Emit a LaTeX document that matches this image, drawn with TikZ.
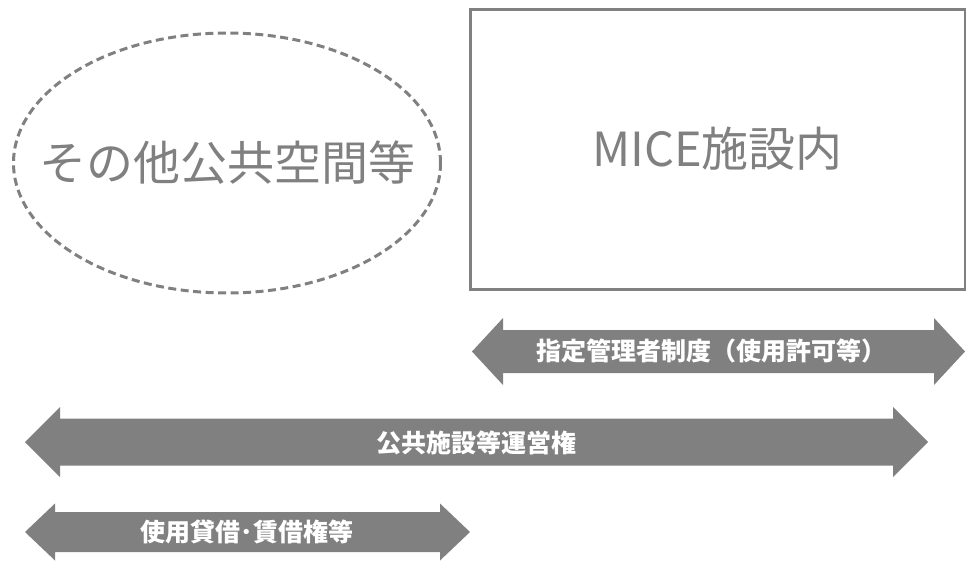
\documentclass[tikz,border=0pt]{standalone}
\usepackage{fontspec}
\setmainfont{Noto Sans CJK JP}
\usetikzlibrary{shapes.geometric}
\definecolor{gr}{RGB}{128,128,128}
\newcommand\dblarr[6]{% x1, x2, yc, shaft half, head half, head length
  \fill[gr] (#1,#3) -- (#1+#6,#3-#5) -- (#1+#6,#3-#4) -- (#2-#6,#3-#4) -- (#2-#6,#3-#5)
    -- (#2,#3) -- (#2-#6,#3+#5) -- (#2-#6,#3+#4) -- (#1+#6,#3+#4) -- (#1+#6,#3+#5) -- cycle;}
\tikzset{
  bigtext/.style={text=gr, font=\fontsize{47}{54}\selectfont, inner sep=0pt},
  arrtext/.style={text=white, font=\bfseries\fontsize{25}{30}\selectfont, inner sep=0pt},
}
\begin{document}
\begin{tikzpicture}[x=1pt, y=-1pt]
\useasboundingbox (0,0) rectangle (966,563);
% dashed ellipse
\node[ellipse, draw=gr, dash pattern=on 8pt off 4.5pt, line width=3pt, inner sep=0pt,
      minimum width=427pt, minimum height=260pt] (other) at (227,163) {};
\node[bigtext] (othertext) at (other.center) {その他公共空間等};
% rectangle
\node[draw=gr, line width=3pt, minimum width=495pt, minimum height=280pt, bigtext] (mice) at (717.5,149) {MICE施設内};
% arrows
\dblarr{472}{965}{351.5}{21.5}{33.5}{31}
\node[arrtext] (shitei) at (711,351) {指定管理者制度（使用許可等）};
\dblarr{25}{928}{442}{23.5}{35}{35}
\node[arrtext] (unei) at (476,443) {公共施設等運営権};
\dblarr{25}{470}{532}{20}{28.5}{30}
\node[arrtext] (shiyo) at (247,532) {使用貸借･賃借権等};
\end{tikzpicture}
\end{document}
